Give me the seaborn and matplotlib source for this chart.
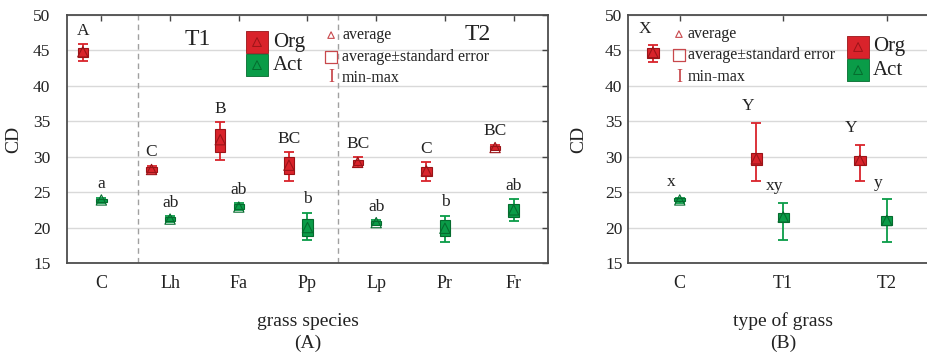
import numpy as np
import pandas as pd
import matplotlib
matplotlib.use("Agg")
import matplotlib.pyplot as plt
import seaborn as sns

# ---------------- data ----------------
species = ['C', 'Lh', 'Fa', 'Pp', 'Lp', 'Pr', 'Fr']
org_mean_a = [44.8, 28.2, 32.4, 28.8, 29.2, 28.0, 31.3]
org_selo_a = [44.1, 27.8, 30.7, 27.5, 28.8, 27.3, 31.0]
org_sehi_a = [45.4, 28.6, 33.9, 29.9, 29.6, 28.6, 31.5]
org_min_a = [43.5, 27.7, 29.6, 26.6, 28.6, 26.6, 30.9]
org_max_a = [45.9, 28.7, 34.9, 30.6, 29.9, 29.2, 31.7]
act_mean_a = [23.9, 21.2, 22.9, 20.0, 20.7, 19.9, 22.5]
act_selo_a = [23.6, 20.9, 22.6, 18.8, 20.4, 18.8, 21.5]
act_sehi_a = [24.1, 21.5, 23.3, 21.2, 20.9, 21.0, 23.3]
act_min_a = [23.4, 20.8, 22.5, 18.2, 20.3, 17.9, 20.9]
act_max_a = [24.2, 21.6, 23.4, 22.1, 21.0, 21.7, 24.0]
org_letters_a = ['A', 'C', 'B', 'BC', 'BC', 'C', 'BC']
act_letters_a = ['a', 'ab', 'ab', 'b', 'ab', 'b', 'ab']

types = ['C', 'T1', 'T2']
org_mean_b = [44.7, 29.7, 29.5]
org_selo_b = [44.0, 28.9, 28.9]
org_sehi_b = [45.3, 30.5, 30.1]
org_min_b = [43.4, 26.55, 26.55]
org_max_b = [45.75, 34.8, 31.7]
act_mean_b = [23.9, 21.5, 21.0]
act_selo_b = [23.7, 20.75, 20.4]
act_sehi_b = [24.15, 22.1, 21.7]
act_min_b = [23.5, 18.2, 17.9]
act_max_b = [24.2, 23.5, 24.0]
org_letters_b = ['X', 'Y', 'Y']
act_letters_b = ['x', 'xy', 'y']

groups = ['Org', 'Act']
face = {'Org': '#d9232b', 'Act': '#0a9c48'}
edge = {'Org': '#9a1418', 'Act': '#056b2e'}
legend_red = '#c8484c'

sns.set_theme(style="white")
plt.rcParams['font.family'] = ['Liberation Serif', 'DejaVu Serif']
plt.rcParams['mathtext.fontset'] = 'dejavuserif'

fig = plt.figure(figsize=(9.28, 3.55), dpi=100)
axA = fig.add_axes([67/928, 1-263/355, 481/928, 248/355])
axB = fig.add_axes([628/928, 1-263/355, 310.5/928, 248/355])


def build(cats, off, om, olo, ohi, omin, omax, am, alo, ahi, amin, amax, ol, al):
    rows = []
    for i, c in enumerate(cats):
        rows.append(dict(cat=c, grp='Org', x=i + off, mean=om[i], lo=olo[i], hi=ohi[i],
                         mn=omin[i], mx=omax[i], lab=ol[i]))
        rows.append(dict(cat=c, grp='Act', x=i, mean=am[i], lo=alo[i], hi=ahi[i],
                         mn=amin[i], mx=amax[i], lab=al[i]))
    return pd.DataFrame(rows)


def draw(ax, df, boxw, cap, labdx, labdy, msize):
    for g in groups:
        d = df[df.grp == g]
        ax.errorbar(d.x, d['mean'], yerr=[d['mean'] - d.mn, d.mx - d['mean']], fmt='none',
                    ecolor=face[g], elinewidth=1.3, capsize=cap, capthick=1.3, zorder=3)
        ax.bar(d.x, d.hi - d.lo, bottom=d.lo, width=boxw, color=face[g],
               edgecolor=edge[g], linewidth=0.8, zorder=4)
    sns.scatterplot(data=df, x='x', y='mean', hue='grp', palette=edge, marker='^',
                    s=msize, ax=ax, legend=False, zorder=5, linewidth=0.8)
    coll = ax.collections[-1]
    coll.set_facecolor('none')
    coll.set_edgecolors([edge[g] for g in df.grp])
    for _, r in df.iterrows():
        ax.text(r.x + labdx, r.mx + labdy, r.lab, ha='center', va='center', fontsize=12.5,
                color='#222222', zorder=6)


def style(ax, cats, xlab, panel, ylabx, ypad):
    ax.set_ylim(15, 50)
    ax.set_xlim(-0.5, len(cats) - 0.5)
    ax.set_xticks(range(len(cats)))
    ax.set_xticklabels(cats)
    ax.set_yticks(range(15, 51, 5))
    ax.tick_params(axis='both', direction='in', top=True, right=True, length=4,
                   width=1, color='#444444', labelsize=12.5, labelcolor='#222222')
    ax.tick_params(axis='x', pad=9, labelsize=13)
    ax.tick_params(axis='y', pad=ypad)
    ax.grid(axis='y', color='#d9d9d9', linewidth=1, zorder=0)
    ax.set_axisbelow(True)
    for s in ax.spines.values():
        s.set_color('#4d4d4d')
        s.set_linewidth(1.3)
    ax.set_ylabel('CD', fontsize=14, color='#222222')
    ax.yaxis.set_label_coords(ylabx, 0.5)
    ax.set_xlabel(xlab, fontsize=14, color='#222222')
    ax.xaxis.set_label_coords(0.5, -0.2)
    ax.text(0.5, -0.325, panel, transform=ax.transAxes, ha='center', va='center',
            fontsize=14, color='#222222')


def legends(ax, gx, gy, tx, sx, sy, stx):
    tr = ax.transAxes
    for g, y in zip(groups, gy):
        ax.scatter([gx], [y], marker='s', s=260, color=face[g], edgecolors=edge[g],
                   linewidths=0.6, transform=tr, zorder=7, clip_on=False)
        ax.scatter([gx], [y], marker='^', s=40, facecolors='none', edgecolors=edge[g],
                   linewidths=0.7, transform=tr, zorder=8, clip_on=False)
        ax.text(tx, y, g, transform=tr, ha='left', va='center', fontsize=15, color='#222222')
    ax.scatter([sx], [sy[0]], marker='^', s=22, facecolors='none', edgecolors=legend_red,
               linewidths=0.8, transform=tr, zorder=7)
    ax.scatter([sx], [sy[1]], marker='s', s=75, facecolors='none', edgecolors=legend_red,
               linewidths=0.9, transform=tr, zorder=7)
    ax.text(sx, sy[2], 'I', transform=tr, ha='center', va='center', fontsize=13,
            color=legend_red)
    for t, y in zip(['average', 'average±standard error', 'min-max'], sy):
        ax.text(stx, y, t, transform=tr, ha='left', va='center', fontsize=11.5,
                color='#222222')


dfA = build(species, -0.27, org_mean_a, org_selo_a, org_sehi_a, org_min_a, org_max_a,
            act_mean_a, act_selo_a, act_sehi_a, act_min_a, act_max_a,
            org_letters_a, act_letters_a)
dfB = build(types, -0.26, org_mean_b, org_selo_b, org_sehi_b, org_min_b, org_max_b,
            act_mean_b, act_selo_b, act_sehi_b, act_min_b, act_max_b,
            org_letters_b, act_letters_b)

draw(axA, dfA, 0.15, 3.6, 0.0, 1.9, 55)
draw(axB, dfB, 0.11, 3.6, -0.08, 2.3, 55)

style(axA, species, 'grass species', '(A)', -0.094, 12)
style(axB, types, 'type of grass', '(B)', -0.132, 4)

for xv in [0.53, 3.44]:
    axA.axvline(xv, color='#a0a0a0', linestyle=(0, (4, 3)), linewidth=1, zorder=1)
axA.text(1.41, 46.5, 'T1', ha='center', va='center', fontsize=17, color='#222222')
axA.text(5.47, 47.2, 'T2', ha='center', va='center', fontsize=17, color='#222222')

legends(axA, 0.395, [0.891, 0.798], 0.428, 0.549, [0.919, 0.831, 0.746], 0.572)
legends(axB, 0.741, [0.871, 0.778], 0.789, 0.164, [0.923, 0.839, 0.75], 0.193)

fig.savefig('out.png', dpi=100)
